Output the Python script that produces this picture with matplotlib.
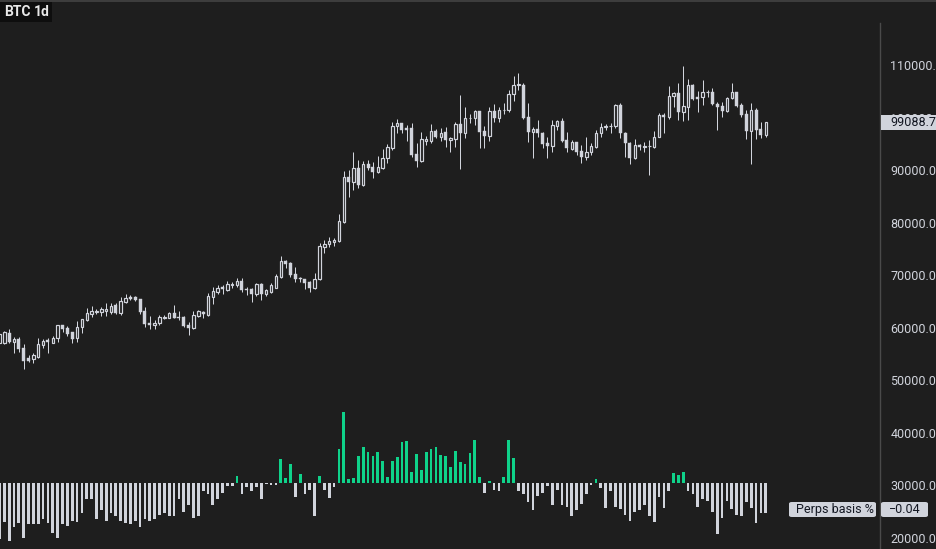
import matplotlib
matplotlib.use("Agg")
import matplotlib.pyplot as plt
from matplotlib.patches import Rectangle, FancyBboxPatch
from matplotlib.ticker import FuncFormatter
import numpy as np

plt.rcParams['font.family'] = ['Liberation Sans Narrow', 'Roboto', 'DejaVu Sans']

# ---------------- data ----------------
opens = [57180, 57180, 59080, 57370, 57810, 56100, 54200, 54010, 54520, 56740,
         57620, 57180, 58000, 60540, 60030, 59140, 58000, 60100, 61490, 62690,
         63010, 63080, 63140, 63080, 64280, 62760, 64910, 65930, 65930, 65420,
         63270, 60860, 60540, 60860, 61930, 61930, 62750, 62120, 62120, 60530,
         60030, 62310, 63070, 62440, 65920, 66750, 67700, 67190, 68140, 68140,
         68970, 67380, 67380, 66430, 68270, 66430, 66750, 67640, 69600, 72710,
         72270, 70180, 69540, 69290, 68780, 67510, 69290, 75430, 75940, 76390,
         76510, 80190, 88630, 87800, 90340, 87170, 91160, 90530, 89700, 90340,
         92240, 94140, 98390, 98900, 97950, 97950, 93070, 91800, 95610, 95610,
         97500, 96360, 97190, 95730, 95860, 98770, 97000, 99850, 99850, 101250,
         97440, 96550, 101250, 99980, 101440, 101440, 104420, 106200, 106200, 100040,
         97320, 97760, 97000, 95100, 94590, 98390, 99350, 95730, 94020, 95290,
         93640, 92560, 93380, 94460, 97000, 98270, 98330, 98390, 102390, 97130,
         95220, 92240, 94780, 94330, 94590, 94460, 96360, 100490, 100040, 104100,
         104610, 101120, 102070, 106190, 103980, 103850, 104800, 104870, 102580, 102200,
         101250, 103780, 104800, 102390, 100610, 97510, 101440, 97760, 96680]
highs = [59300, 59400, 59710, 58320, 58260, 56930, 54770, 55210, 58000, 57880,
         58000, 58450, 60600, 60600, 60350, 59270, 61300, 61650, 63840, 64150,
         63580, 63960, 64790, 64660, 64660, 65800, 66430, 66240, 66050, 65480,
         63960, 62250, 61490, 62440, 62440, 62940, 64340, 63200, 62250, 61170,
         63200, 63390, 63200, 66560, 67830, 68140, 68140, 68900, 68780, 69410,
         69540, 67830, 67510, 68590, 68590, 67380, 68460, 70240, 73660, 72900,
         72460, 71500, 69730, 69350, 68970, 70360, 76200, 76700, 77340, 77020,
         81650, 89830, 90020, 93450, 91930, 91800, 91930, 91610, 92750, 93950,
         94970, 99090, 99660, 99000, 98580, 98900, 95100, 97190, 96550, 98770,
         97760, 97950, 98270, 96360, 99220, 104290, 102070, 100610, 101440, 101300,
         98390, 101950, 102580, 101950, 102710, 105240, 107910, 108410, 106510, 102710,
         98140, 99540, 97320, 96360, 99540, 99540, 99850, 97320, 95730, 95350,
         94780, 96360, 95100, 97630, 98900, 98770, 98900, 102580, 102830, 97320,
         95410, 95920, 94970, 95410, 95730, 97440, 100800, 100930, 106000, 104930,
         106510, 109810, 107340, 106380, 105120, 107150, 105240, 105560, 103020, 103020,
         103980, 106510, 104930, 102830, 101440, 102710, 101760, 99220, 99220]
lows = [56900, 56930, 57180, 55280, 55470, 52230, 53570, 53370, 54330, 56230,
        55280, 57050, 57370, 59270, 58510, 57180, 57370, 58950, 61300, 62120,
        62570, 62190, 62310, 62570, 62690, 62500, 64720, 65230, 65170, 62690,
        60100, 59710, 59710, 60540, 61610, 61800, 61930, 61480, 60150, 58630,
        59840, 62120, 61930, 62250, 64530, 66430, 66370, 67000, 67640, 67700,
        66750, 66240, 64970, 66110, 65350, 66110, 66560, 67510, 69410, 71310,
        69730, 68780, 68780, 67320, 66750, 67320, 69100, 74300, 75430, 75620,
        76390, 80000, 84950, 86220, 86540, 86980, 90020, 88560, 89520, 90300,
        91420, 93830, 97130, 97130, 95600, 92560, 90660, 91610, 94780, 95220,
        96050, 95600, 94330, 93510, 94460, 90210, 96050, 98900, 98580, 94150,
        94150, 95540, 99220, 99220, 100610, 101120, 103150, 105240, 99730, 95410,
        92240, 96360, 94150, 92370, 93380, 97630, 95410, 93380, 93830, 92880,
        91290, 91930, 92880, 94270, 96360, 97630, 97000, 97950, 96050, 92430,
        91160, 92120, 93830, 93510, 89070, 94140, 96230, 97130, 99660, 102070,
        99540, 99410, 99540, 103340, 101120, 102390, 103980, 102390, 97630, 100170,
        101120, 103470, 102070, 100170, 95920, 91160, 95920, 96050, 96360]
closes = [58830, 59140, 57370, 57940, 55970, 53760, 53760, 54830, 56930, 57490,
          57310, 58000, 60540, 59710, 58830, 57940, 60100, 61620, 62880, 63200,
          63270, 63580, 63650, 64150, 62880, 65100, 65670, 65550, 65360, 63080,
          60670, 60540, 60860, 62000, 62120, 62750, 61930, 61800, 60410, 60030,
          62440, 63200, 62630, 66050, 67000, 67640, 67320, 68330, 68270, 68970,
          67190, 67190, 66430, 68270, 66430, 67190, 68140, 69920, 72710, 72140,
          70050, 69290, 69220, 68590, 67510, 69290, 75560, 75940, 76510, 76700,
          80320, 88630, 87800, 90340, 87170, 91160, 90470, 89700, 90530, 92240,
          94330, 98390, 98900, 97630, 97630, 92880, 91800, 95860, 95860, 97500,
          96360, 97130, 95730, 96050, 98770, 97000, 99850, 99950, 101250, 97320,
          96550, 101250, 99980, 101440, 101500, 104420, 106200, 106300, 99850, 97320,
          97760, 97000, 94970, 94590, 98580, 99350, 95540, 94150, 95410, 93510,
          92560, 93380, 94590, 97000, 98270, 98330, 98390, 102390, 97000, 95100,
          92240, 94780, 94330, 94590, 94650, 96360, 100490, 100040, 104100, 104610,
          101120, 102200, 106190, 103470, 103470, 104800, 104870, 102520, 102070, 101250,
          103780, 104800, 102260, 100490, 97510, 101440, 97630, 96680, 99088.7]
basis = [-0.076, -0.052, -0.078, -0.059, -0.054, -0.074, -0.056, -0.055, -0.055, -0.048,
         -0.054, -0.067, -0.074, -0.056, -0.058, -0.051, -0.052, -0.040, -0.021, -0.021,
         -0.048, -0.036, -0.051, -0.041, -0.045, -0.051, -0.054, -0.055, -0.051, -0.059,
         -0.048, -0.051, -0.049, -0.043, -0.040, -0.044, -0.045, -0.022, -0.039, -0.029,
         -0.047, -0.044, -0.010, -0.015, -0.029, -0.022, -0.013, -0.003, -0.003, 0.010,
         -0.015, -0.005, -0.011, -0.005, -0.021, -0.001, -0.002, -0.002, 0.033, 0.007,
         0.026, -0.018, 0.013, -0.015, -0.009, -0.044, 0.010, -0.009, -0.020, -0.005,
         0.047, 0.097, 0.006, 0.007, 0.037, 0.049, 0.043, 0.037, 0.043, 0.030,
         0.009, 0.030, 0.036, 0.056, 0.058, 0.015, 0.040, 0.018, 0.043, 0.047,
         0.049, 0.039, 0.037, 0.022, 0.044, 0.029, 0.026, 0.041, 0.059, 0.009,
         -0.013, 0.003, -0.009, -0.011, 0.009, 0.059, 0.035, -0.011, -0.014, -0.026,
         -0.036, -0.017, -0.013, -0.003, -0.030, -0.009, -0.029, -0.032, -0.045, -0.036,
         -0.028, -0.014, -0.002, 0.006, -0.007, -0.033, -0.011, -0.032, -0.035, -0.043,
         -0.051, -0.039, -0.037, -0.029, -0.044, -0.052, -0.018, -0.033, -0.010, 0.014,
         0.011, 0.015, -0.011, -0.014, -0.032, -0.021, -0.024, -0.039, -0.069, -0.047,
         -0.024, -0.035, -0.043, -0.044, -0.025, -0.033, -0.054, -0.040, -0.040]
price_ticks = [20000, 30000, 40000, 50000, 60000, 70000, 80000, 90000, 100000, 110000]
title_symbol = "BTC"
title_interval = "1d"
basis_name = "Perps basis %"

# ---------------- style ----------------
BG = '#1e1e1e'
FG = '#d1d4dc'
GREEN = '#0fd28a'
W, H = 937, 549

fig = plt.figure(figsize=(W / 100, H / 100), dpi=100, facecolor=BG)
ax_rect = [0, 0, 880 / W, 526 / H]
ax = fig.add_axes(ax_rect)
ax.set_facecolor(BG)

o = np.array(opens, float); h = np.array(highs, float)
l = np.array(lows, float); c = np.array(closes, float)
x = np.arange(len(o))
up = c >= o
top = np.maximum(o, c); bot = np.minimum(o, c)

# histogram axis (behind the candles)
ax2 = fig.add_axes(ax_rect, sharex=ax)
ax2.set_zorder(0); ax.set_zorder(1); ax.patch.set_visible(False)
ax2.set_facecolor(BG)
b = np.array(basis)
ax2.bar(x, b, width=0.56, color=np.where(b >= 0, GREEN, FG), linewidth=0)
ax2.set_ylim(-0.0894, 0.6263)
ax2.axis('off')

# wicks
lw_px = 0.72
ax.vlines(x[~up], l[~up], h[~up], color=FG, linewidth=lw_px)
ax.vlines(x[up], top[up], h[up], color=FG, linewidth=lw_px)
ax.vlines(x[up], l[up], bot[up], color=FG, linewidth=lw_px)
# bodies
ax.bar(x[up], top[up] - bot[up], bottom=bot[up], width=0.5, facecolor=BG,
       edgecolor=FG, linewidth=lw_px * 1.2)
ax.bar(x[~up], top[~up] - bot[~up], bottom=bot[~up], width=0.62, facecolor=FG,
       edgecolor=FG, linewidth=0.3)

ax.set_xlim(0.113, 181.56)
ax.set_ylim(17914, 117991)
ax.yaxis.tick_right()
ax.set_yticks(price_ticks)
ax.yaxis.set_major_formatter(FuncFormatter(lambda v, p: f"{v:.1f}"))
ax.tick_params(axis='y', length=0, pad=7.5, labelsize=9, labelcolor=FG)
ax.tick_params(axis='x', length=0, labelbottom=False)
for s in ['top', 'left', 'bottom']:
    ax.spines[s].set_visible(False)
ax.spines['right'].set_color('#4a4a4a')
ax.spines['right'].set_linewidth(1)


def fx(px):
    return px / W


def fy(py):
    return 1 - py / H


def box(x0, y0, x1, y1, color, rounded=False):
    if rounded:
        p = FancyBboxPatch((fx(x0), fy(y1)), fx(x1) - fx(x0), fy(y0) - fy(y1),
                           boxstyle="round,pad=0,rounding_size=0.003",
                           transform=fig.transFigure, facecolor=color,
                           edgecolor='none', zorder=5)
    else:
        p = Rectangle((fx(x0), fy(y1)), fx(x1) - fx(x0), fy(y0) - fy(y1),
                      transform=fig.transFigure, facecolor=color,
                      edgecolor='none', zorder=5)
    fig.patches.append(p)


# top border
fig.add_artist(plt.Line2D([0, 1], [fy(0.5), fy(0.5)], transform=fig.transFigure,
                          color='#444444', linewidth=1.2))

# title box
box(0, 2, 52, 22, '#0e0e0e')
fig.text(fx(4), fy(12.5), title_symbol, color='#e8e8e8', fontsize=10,
         fontweight='bold', va='center', ha='left', zorder=6)
fig.text(fx(34), fy(12.5), title_interval, color='#e8e8e8', fontsize=10,
         fontweight='bold', va='center', ha='left', zorder=6)

# last price label
box(881, 115, W, 130, FG)
fig.text(fx(890), fy(122.5), f"{closes[-1]:.1f}", color='#131722', fontsize=9,
         va='center', ha='left', zorder=6)

# basis labels
box(789, 502, 876, 517, FG, rounded=True)
fig.text(fx(796), fy(509.5), basis_name, color='#131722', fontsize=9,
         va='center', ha='left', zorder=6)
box(881, 502, 928, 517, FG, rounded=True)
fig.text(fx(889), fy(509.5), f"{basis[-1]:.2f}".replace('-', '\u2212'),
         color='#131722', fontsize=9, va='center', ha='left', zorder=6)

fig.savefig('out.png', dpi=100, facecolor=BG)
